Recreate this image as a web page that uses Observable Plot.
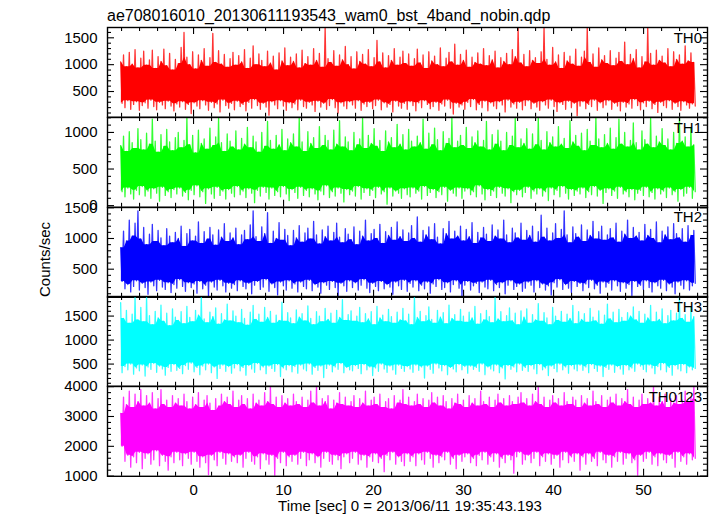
<!DOCTYPE html>
<html><head><meta charset="utf-8">
<script src="https://cdn.jsdelivr.net/npm/d3@7"></script>
<script src="https://cdn.jsdelivr.net/npm/@observablehq/plot@0.6"></script>
<style>
body{margin:0;background:#fff;}
#chart{position:relative;width:717px;height:516px;font-family:"Liberation Sans",Arial,sans-serif;overflow:hidden;}
#chart svg{position:absolute;left:0;}
</style></head><body><div id="chart"></div>
<script>
// Light-curve samples: each bin gives a high and a low count rate (counts/sec)
const T0 = -8.1, DT = 0.32;               // time of first bin, bin width [sec]
const titleText = "ae708016010_20130611193543_wam0_bst_4band_nobin.qdp";
const xLabel = "Time [sec] 0 = 2013/06/11 19:35:43.193";
const yLabel = "Counts/sec";
const bandNames = ["TH0", "TH1", "TH2", "TH3", "TH0123"];
const bandColors = ["#ff0000", "#00ff00", "#0000ff", "#00ffff", "#ff00ff"];
const xTicks = [0, 10, 20, 30, 40, 50];

const th0Hi = [
1050,1180,960,1230,1010,1280,940,1120,1250,990,1090,1270,930,1150,1060,1290,980,1210,900,1100,
1020,1320,1600,1140,1000,1240,920,1180,1080,1300,970,1130,1580,1040,1260,1010,1190,950,1110,1230,
990,1170,1050,1280,930,1120,1350,1000,1200,1080,960,1250,1030,1160,900,1220,1070,1310,980,1140,
1060,1200,940,1270,1020,1150,990,1300,1080,1210,950,1690,1110,1040,1260,970,1180,1090,1340,1000,
1150,920,1240,1060,1190,1010,1280,960,1130,1450,1050,1220,940,1170,1080,1300,990,1140,1250,1020,
1200,970,1110,1290,1030,1180,930,1240,1070,1160,1000,1310,960,1120,1230,1050,1380,990,1190,1080,
1270,950,1140,1040,1220,1010,1300,980,1170,1090,1250,940,1130,1060,1210,1000,1280,1150,1690,1030,
1190,960,1260,1080,1130,1020,1240,1690,1100,990,1320,1050,1180,930,1230,1070,1160,1010,1290,970,
1140,1250,1690,1040,1200,950,1310,1090,1170,1020,1260,980,1120,1230,1060,1420,1000,1190,1110,1280,
940,1150,1050,1690,1210,990,1270,1080,1160,1030,1300,960,1240,1100,1180,1010,1350,1070,1220,1040];
const th0Lo = [
280,200,330,170,260,310,150,240,290,190,340,220,160,300,250,180,320,230,140,270,
210,310,170,260,90,290,230,180,330,250,150,300,200,270,120,340,240,190,280,160,
320,220,260,140,300,190,350,240,170,280,210,60,310,250,180,330,230,150,290,200,
270,160,340,220,190,300,250,130,320,210,280,170,240,350,200,100,290,230,180,310,
250,190,330,150,270,220,300,180,240,340,160,290,210,260,120,320,230,190,280,170,
310,240,140,290,200,330,260,180,220,300,150,270,230,340,190,80,280,210,250,170,
300,220,350,160,260,200,320,140,290,230,180,310,250,120,340,210,270,190,300,160,
240,330,180,280,210,150,310,250,190,340,220,130,290,260,170,320,200,280,50,230,
310,180,260,220,340,150,290,200,250,330,170,280,230,140,300,210,270,190,350,240,
160,290,220,320,180,260,110,300,240,200,330,170,280,220,150,310,250,190,270,230];

const th1Hi = [
820,950,740,1010,860,780,1050,900,760,990,840,1180,880,730,970,810,1040,870,750,930,
1000,790,890,1200,830,960,720,1030,850,910,770,1060,820,940,1190,860,740,980,880,800,
1020,760,920,840,1070,790,950,870,730,1000,810,1150,890,770,960,830,1040,750,910,860,
980,800,1200,870,740,1010,850,930,780,1080,820,960,890,760,1030,840,1160,800,940,870,
750,1000,830,910,1190,780,960,850,1050,810,890,740,1020,870,930,790,1110,840,970,760,
1040,880,800,950,860,1180,770,990,830,1060,900,750,1010,850,920,1200,790,880,960,820,
1070,780,940,860,1020,800,890,1150,760,970,840,1030,880,750,1000,820,950,1190,790,910,
850,1050,770,980,830,1200,890,760,1010,860,940,800,1080,840,920,780,1160,870,960,810,
990,750,1040,880,820,1200,910,790,970,850,1060,770,930,1180,840,1000,800,890,1130,860,
760,1020,900,840,1190,790,950,870,1050,820,910,760,1000,850,1200,880,940,800,1070,830];
const th1Lo = [
190,120,240,160,90,210,150,260,130,200,100,230,170,60,250,140,190,110,220,160,
240,130,180,80,210,150,270,120,190,30,230,160,100,250,140,200,90,220,170,120,
260,150,200,110,230,170,40,210,130,250,180,90,240,140,190,120,260,160,70,220,
180,100,250,140,210,120,230,160,80,200,150,270,110,190,130,240,170,50,220,150,
200,130,260,90,180,230,140,210,110,250,160,190,20,240,130,200,170,100,230,150,
120,240,170,200,90,260,140,180,220,110,190,150,250,60,210,170,130,240,100,200,
230,150,190,120,270,160,80,220,140,200,110,250,170,130,230,40,190,150,210,120,
180,250,100,200,160,230,130,190,70,240,150,210,120,260,170,90,220,140,200,160,
240,110,190,150,260,130,210,30,180,230,140,200,100,250,160,190,120,220,80,170,
210,140,250,120,180,90,230,160,200,110,240,150,190,60,220,130,170,250,100,190];

const th2Hi = [
850,1120,960,1300,1040,1250,1450,990,1180,900,1070,1230,950,1130,1010,880,1160,1040,930,1100,
1000,1200,870,1080,1150,960,1040,1270,920,1110,990,1180,1060,890,1140,1020,1240,950,1090,1010,
1170,900,1060,1130,980,1220,1450,1030,950,1190,1080,1420,920,1120,1000,1260,970,1150,1050,880,
1130,1010,1210,940,1090,1170,990,1280,1060,910,1140,1030,1200,960,1100,1250,1020,930,1160,1070,
980,1190,900,1120,1040,1300,960,1080,1150,1000,1230,920,1110,1050,1180,970,1270,1030,1140,950,
1090,1210,1000,1350,940,1130,1060,1190,980,1240,1020,910,1160,1080,1280,990,1120,1040,1200,960,
1150,1030,1260,920,1100,1010,1180,1070,950,1220,1040,1140,990,1300,1060,930,1170,1090,1010,1250,
970,1130,1050,1200,940,1110,1380,1020,1170,960,1090,1240,1000,1150,1450,1060,930,1190,1080,1020,
1220,950,1140,1050,1280,990,1110,1200,970,1060,1160,1010,1250,940,1120,1070,1300,1000,1180,1040,
1100,960,1230,1050,1150,1000,1270,930,1120,1060,1190,980,1240,1080,1010,1160,940,1210,1050,1130];
const th2Lo = [
300,180,250,130,220,310,160,270,200,90,290,230,150,320,210,170,280,120,250,190,
330,220,140,280,200,260,110,300,180,240,60,290,210,160,320,230,130,270,190,250,
150,310,220,180,270,100,240,300,170,210,330,140,260,200,80,290,230,160,310,190,
260,130,290,220,180,320,150,250,210,110,280,240,170,300,200,60,270,230,140,310,
200,280,160,240,330,190,120,270,220,150,300,180,250,210,90,290,230,170,320,140,
270,210,310,150,240,180,290,110,260,220,330,170,200,280,130,250,310,190,50,240,
300,160,230,270,120,290,210,180,320,150,250,200,280,100,240,310,170,220,260,140,
190,290,240,130,310,200,260,160,230,80,280,210,330,170,250,190,120,300,220,270,
150,260,200,320,180,240,110,290,210,270,160,310,230,140,280,190,250,70,300,220,
240,170,310,200,130,280,230,190,320,150,260,210,100,290,240,180,310,160,230,270];

const th3Hi = [
1780,1450,1620,1350,1540,1900,1420,1680,1380,1900,1510,1320,1600,1460,1730,1390,1560,1300,1650,1480,
1410,1590,1340,1700,1470,1380,1620,1520,1900,1440,1360,1580,1490,1670,1330,1550,1420,1750,1400,1610,
1500,1360,1640,1450,1310,1580,1720,1430,1540,1370,1680,1470,1600,1350,1520,1410,1790,1390,1570,1460,
1340,1630,1480,1550,1400,1710,1450,1320,1590,1500,1380,1660,1430,1560,1350,1620,1470,1840,1410,1530,
1610,1390,1500,1680,1360,1550,1440,1590,1320,1700,1460,1520,1380,1640,1490,1350,1580,1420,1660,1400,
1540,1320,1900,1470,1600,1380,1510,1690,1430,1350,1620,1480,1570,1340,1730,1450,1530,1390,1640,1500,
1370,1580,1460,1700,1330,1550,1420,1620,1490,1360,1900,1440,1590,1380,1510,1670,1400,1560,1320,1610,
1480,1650,1350,1530,1420,1760,1390,1570,1460,1320,1680,1500,1410,1600,1370,1540,1450,1720,1340,1590,
1430,1550,1370,1660,1480,1400,1610,1330,1520,1750,1440,1580,1360,1640,1470,1390,1570,1500,1690,1420,
1600,1350,1540,1460,1720,1380,1580,1430,1650,1340,1510,1620,1400,1560,1900,1450,1530,1370,1680,1490];
const th3Lo = [
320,450,380,500,290,420,360,480,250,440,390,510,330,460,400,270,430,350,490,370,
410,300,470,390,520,340,430,280,460,380,500,320,440,200,410,480,350,450,310,420,
490,360,430,270,470,400,330,510,380,440,300,460,410,350,490,240,420,380,470,340,
450,310,480,400,360,500,290,430,370,460,220,410,480,340,440,390,510,320,430,380,
360,470,410,300,490,380,440,260,420,350,500,400,330,460,380,290,480,410,350,450,
400,330,480,370,440,210,460,390,310,500,420,360,470,280,430,400,340,490,380,450,
310,460,390,430,350,500,280,440,400,360,480,320,420,190,470,390,440,340,500,370,
430,350,470,400,300,490,380,420,260,460,410,340,500,380,440,310,470,400,360,480,
370,440,320,490,410,350,460,240,430,390,480,330,450,400,290,470,380,420,350,500,
460,390,340,480,420,300,450,380,510,340,430,270,470,400,360,490,320,440,380,410];

const th0123Hi = [
3100,3650,3400,3850,3300,3750,3500,3900,3350,3700,3450,3800,3250,3600,3900,3400,3550,3300,3700,3450,
3600,3350,3750,3500,3250,3650,3400,3800,3300,3550,3700,3450,3200,3600,3350,3750,3500,3650,3400,3850,
3300,3550,3700,3400,3600,3250,3750,3450,3550,3350,3800,3500,4000,3400,3650,3300,3700,3450,3600,3350,
3750,3500,3400,3650,3300,3550,3850,3450,4000,3350,3600,3500,3700,3250,3550,3450,3800,3400,3650,3350,
3500,3700,3300,3600,3450,3850,3350,3550,3650,3400,3750,3300,3500,3600,3250,3700,3450,3550,3900,3400,
3650,3350,3500,3750,3400,3600,3300,3550,3800,3450,3650,3350,3700,3500,3250,3600,3450,3750,3400,3550,
3300,3700,3450,3600,3350,3850,3500,3400,3650,3300,3550,3750,3450,3600,3350,3700,3500,3400,3650,3800,
3450,3600,3350,3750,3500,4000,3400,3650,3300,3550,3700,3450,3600,3350,3800,3500,3400,3650,3550,3300,
3700,3450,3600,3350,3850,3500,3400,3700,3300,3550,3650,3450,3750,3350,3600,3500,3900,3400,3650,3300,
3550,3750,3400,3600,3450,4000,3350,3650,3500,3750,3300,3600,3450,3700,3400,3550,3850,3500,3650,4000];
const th0123Lo = [
2000,1500,1700,1300,1650,1450,1800,1250,1600,1750,1400,1550,1850,1350,1700,1500,1200,1650,1450,1800,
1550,1350,1750,1600,1400,1800,1500,1300,1650,1450,1050,1700,1550,1350,1800,1600,1400,1750,1500,1650,
1450,1700,1300,1600,1800,1500,1400,1650,1250,1750,1550,1400,1700,1000,1600,1450,1800,1350,1650,1500,
1700,1400,1600,1800,1350,1550,1750,1450,1650,1300,1600,1800,1500,1400,1700,1550,1250,1650,1750,1450,
1600,1800,1400,1550,1700,1300,1650,1500,1750,1450,1600,1150,1700,1550,1800,1400,1650,1500,1350,1750,
1500,1650,1350,1750,1550,1400,1800,1600,1300,1700,1450,1650,1550,1800,1400,1600,1250,1700,1500,1650,
1750,1450,1600,1350,1700,1550,1800,1400,1650,1500,1750,1300,1600,1450,1700,1550,1100,1650,1800,1400,
1550,1700,1450,1600,1800,1350,1650,1500,1750,1400,1600,1700,1300,1550,1800,1450,1650,1500,1750,1200,
1650,1400,1750,1500,1600,1350,1800,1550,1450,1700,1300,1650,1500,1800,1400,1600,1750,1450,1550,1000,
1700,1500,1600,1800,1400,1650,1350,1750,1550,1450,1700,1600,1300,1800,1500,1650,1400,1750,1550,1600];

// per-panel axis settings
const yDomains = [[20,1692],[-23,1204],[42,1505],[37,1908],[995,4005]];
const yTicks = [[500,1000,1500],[0,500,1000],[500,1000,1500],[500,1000,1500],[1000,2000,3000,4000]];
const yMinorSteps = [100,100,100,100,200];
const hiSeries = [th0Hi, th1Hi, th2Hi, th3Hi, th0123Hi];
const loSeries = [th0Lo, th1Lo, th2Lo, th3Lo, th0123Lo];

// layout
const W = 717, ML = 107, MR = 10, TOP = 27, PH = 89.8, PAD = 14;
const XDOM = [-9.56, 57.1];
const MAJ = 7, MIN = 4;
const innerW = W - ML - MR;
const FONT = "'Liberation Sans', Arial, sans-serif";
const chart = document.getElementById("chart");
const xMinor = d3.range(-8, 57, 2).filter(v => !xTicks.includes(v));

bandNames.forEach((name, i) => {
  const top = TOP + i * PH;
  const last = i === bandNames.length - 1;
  const hi = hiSeries[i], lo = loSeries[i];
  const pts = [];
  hi.forEach((h, k) => {
    const t = T0 + k * DT;
    pts.push({t, v: h});
    pts.push({t: t + DT / 2, v: lo[k]});
  });
  // dense core: where neighbouring bins all overlap
  const core = hi.map((h, k) => {
    const a = Math.max(0, k - 1), b = Math.min(hi.length - 1, k + 1);
    return {
      t: T0 + k * DT + DT / 4,
      y1: Math.max(lo[a], lo[k], lo[b]),
      y2: Math.min(hi[a], hi[k], hi[b])
    };
  });
  const dom = yDomains[i];
  const step = yMinorSteps[i];
  const yMinor = d3.range(Math.ceil(dom[0] / step) * step, dom[1], step).filter(v => !yTicks[i].includes(v));
  const tk = {stroke: "black", strokeWidth: 1.1};
  const marks = [
    Plot.areaY(core, {x: "t", y1: "y1", y2: "y2", fill: bandColors[i], clip: true}),
    Plot.line(pts, {x: "t", y: "v", stroke: bandColors[i], strokeWidth: 1.3, strokeOpacity: 0.8, clip: true}),
    Plot.tickY(yTicks[i], {...tk, insetRight: innerW - MAJ}),
    Plot.tickY(yTicks[i], {...tk, insetLeft: innerW - MAJ}),
    Plot.tickY(yMinor, {...tk, insetRight: innerW - MIN}),
    Plot.tickY(yMinor, {...tk, insetLeft: innerW - MIN}),
    Plot.tickX(xTicks, {...tk, insetBottom: PH - MAJ}),
    Plot.tickX(xTicks, {...tk, insetTop: PH - MAJ}),
    Plot.tickX(xMinor, {...tk, insetBottom: PH - MIN}),
    Plot.tickX(xMinor, {...tk, insetTop: PH - MIN}),
    Plot.axisY(yTicks[i], {tickSize: 0, tickPadding: 10, fontSize: 15, fill: "black", label: null, tickFormat: "d"}),
    Plot.frame({stroke: "black", strokeWidth: 1.4})
  ];
  if (last) marks.push(Plot.axisX(xTicks, {tickSize: 0, tickPadding: 8, fontSize: 15, fill: "black", label: null, tickFormat: "d"}));
  const svg = Plot.plot({
    width: W, height: PH + 2 * PAD,
    marginLeft: ML, marginRight: MR, marginTop: PAD, marginBottom: PAD,
    x: {domain: XDOM, ...(last ? {} : {axis: null})},
    y: {domain: dom},
    style: {background: "transparent", overflow: "visible", fontFamily: FONT, fontSize: "15px", color: "black"},
    marks
  });
  svg.style.top = (top - PAD) + "px";
  chart.appendChild(svg);
});

// overlay texts
const ov = d3.select(chart).append("svg")
  .attr("width", W).attr("height", 516)
  .style("top", "0px").style("overflow", "visible")
  .style("font-family", FONT);
ov.append("text").attr("x", 107).attr("y", 21).attr("font-size", 16).text(titleText);
ov.append("text").attr("transform", "translate(49.5,259.5) rotate(-90)")
  .attr("text-anchor", "middle").attr("font-size", 15).text(yLabel);
ov.append("text").attr("x", 410).attr("y", 510.5).attr("text-anchor", "middle")
  .attr("font-size", 15).text(xLabel);
bandNames.forEach((name, i) => {
  ov.append("text").attr("x", 702).attr("y", TOP + i * PH + 15.8)
    .attr("text-anchor", "end").attr("font-size", 15).text(name);
});
</script>
</body></html>
